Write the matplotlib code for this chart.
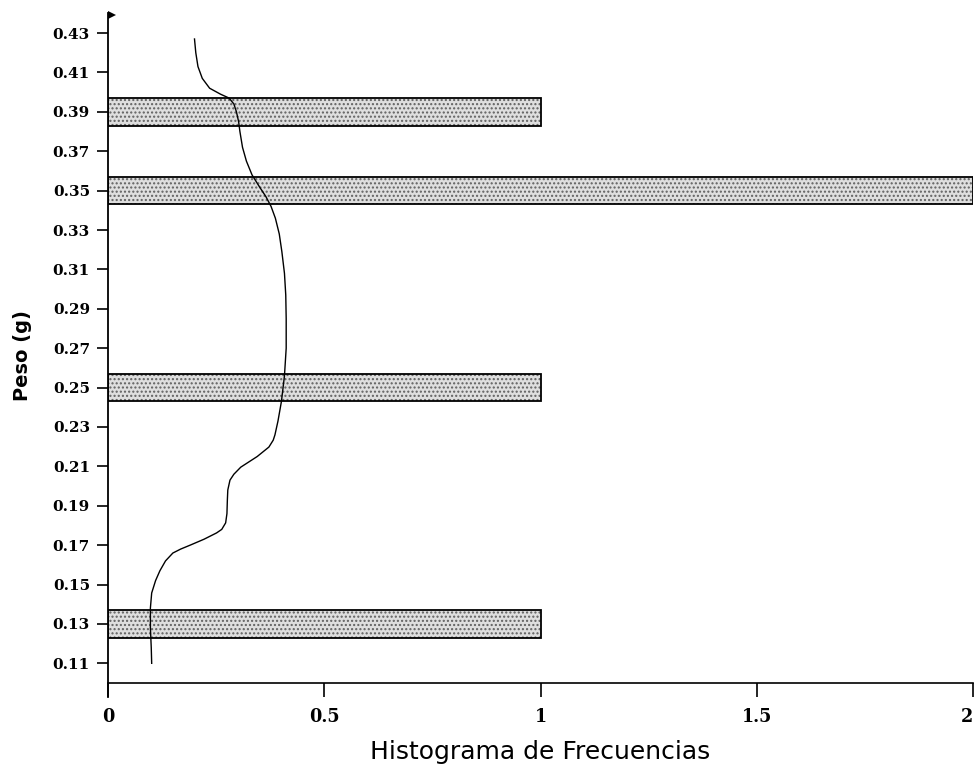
import matplotlib
matplotlib.use("Agg")
import matplotlib.pyplot as plt

# Data
bar_centers = [0.13, 0.25, 0.35, 0.39]
bar_counts = [1, 1, 2, 1]
bar_height = 0.014

curve_y = [0.427, 0.420, 0.413, 0.407, 0.402, 0.399, 0.397, 0.394, 0.390,
           0.385, 0.380, 0.372, 0.365, 0.358, 0.352, 0.347, 0.342, 0.336,
           0.328, 0.319, 0.308, 0.297, 0.285, 0.270, 0.256, 0.243, 0.233,
           0.226, 0.2233, 0.2198, 0.215, 0.2096, 0.206, 0.203, 0.198, 0.193,
           0.186, 0.1813, 0.178, 0.1762, 0.173, 0.170, 0.168, 0.166, 0.162,
           0.157, 0.152, 0.1457, 0.138, 0.128, 0.118, 0.110]
curve_x = [0.200, 0.203, 0.208, 0.218, 0.235, 0.260, 0.280, 0.291, 0.297,
           0.302, 0.305, 0.311, 0.320, 0.333, 0.350, 0.365, 0.377, 0.387,
           0.396, 0.402, 0.408, 0.411, 0.412, 0.412, 0.408, 0.401, 0.393,
           0.386, 0.382, 0.372, 0.345, 0.307, 0.291, 0.282, 0.277, 0.276,
           0.275, 0.272, 0.263, 0.251, 0.222, 0.190, 0.168, 0.150, 0.133,
           0.120, 0.110, 0.101, 0.098, 0.098, 0.100, 0.101]

yticks = [0.11, 0.13, 0.15, 0.17, 0.19, 0.21, 0.23, 0.25, 0.27, 0.29, 0.31,
          0.33, 0.35, 0.37, 0.39, 0.41, 0.43]
xticks = [0, 0.5, 1, 1.5, 2]
xtick_labels = ["0", "0.5", "1", "1.5", "2"]

fig = plt.figure(figsize=(9.76, 7.69), dpi=100)
ax = fig.add_axes([108/976, 86/769, (973-108)/976, (683-13)/769])
ax.set_xlim(0, 2)
ax.set_ylim(0.10, 0.4402)

# bars: dotted fill then outline
ax.barh(bar_centers, bar_counts, height=bar_height, color="#dedede",
        hatch="....", edgecolor="#606060", linewidth=0, zorder=2)
ax.barh(bar_centers, bar_counts, height=bar_height, fill=False,
        edgecolor="black", linewidth=1.3, zorder=3)

ax.plot(curve_x, curve_y, color="black", linewidth=1.0, zorder=4)

for s in ["top", "right", "left"]:
    ax.spines[s].set_visible(False)
ax.spines["bottom"].set_linewidth(1.2)

# left axis line extending below the x axis
ax.plot([0, 0], [0.0929, 0.4402], color="black", linewidth=1.3,
        clip_on=False, transform=ax.get_yaxis_transform(), zorder=5)
ax.plot([0.005], [0.4392], marker=">", markersize=6, color="black",
        transform=ax.get_yaxis_transform(), clip_on=False, zorder=5,
        markeredgewidth=0)

ax.set_yticks(yticks)
ax.set_yticklabels([f"{v:.2f}" for v in yticks],
                   fontfamily="DejaVu Serif", fontweight="bold", fontsize=11)
ax.set_xticks(xticks)
ax.set_xticklabels(xtick_labels, fontfamily="DejaVu Serif", fontstretch="condensed",
                   fontweight="bold", fontsize=14)
ax.get_xticklabels()[-1].set_horizontalalignment("right")
ax.tick_params(axis="y", direction="out", length=8, width=1.2, pad=5)
ax.tick_params(axis="x", direction="out", length=10, width=1.2, pad=8)

fig.text(540/976, 1 - 752/769, "Histograma de Frecuencias", ha="center",
         va="center", fontsize=18, fontfamily="DejaVu Sans")
fig.text(23/976, 1 - 356/769, "Peso (g)", ha="center", va="center",
         rotation=90, fontsize=14, fontweight="bold", fontfamily="DejaVu Sans")

fig.savefig("out.png", dpi=100)
